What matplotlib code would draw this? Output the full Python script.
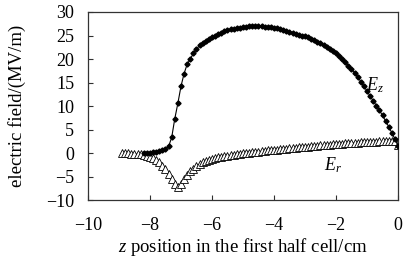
import matplotlib
matplotlib.use("Agg")
import matplotlib.pyplot as plt

plt.rcParams['font.family'] = ['Liberation Serif', 'DejaVu Serif']
plt.rcParams['mathtext.fontset'] = 'custom'
plt.rcParams['mathtext.it'] = 'Liberation Serif:italic'
plt.rcParams['mathtext.rm'] = 'Liberation Serif'

# z positions (cm), step 0.1 from -8.9 to 0
z = [-8.9, -8.8, -8.7, -8.6, -8.5, -8.4, -8.3, -8.2, -8.1, -8.0,
     -7.9, -7.8, -7.7, -7.6, -7.5, -7.4, -7.3, -7.2, -7.1, -7.0,
     -6.9, -6.8, -6.7, -6.6, -6.5, -6.4, -6.3, -6.2, -6.1, -6.0,
     -5.9, -5.8, -5.7, -5.6, -5.5, -5.4, -5.3, -5.2, -5.1, -5.0,
     -4.9, -4.8, -4.7, -4.6, -4.5, -4.4, -4.3, -4.2, -4.1, -4.0,
     -3.9, -3.8, -3.7, -3.6, -3.5, -3.4, -3.3, -3.2, -3.1, -3.0,
     -2.9, -2.8, -2.7, -2.6, -2.5, -2.4, -2.3, -2.2, -2.1, -2.0,
     -1.9, -1.8, -1.7, -1.6, -1.5, -1.4, -1.3, -1.2, -1.1, -1.0,
     -0.9, -0.8, -0.7, -0.6, -0.5, -0.4, -0.3, -0.2, -0.1, 0.0]

# axial field Ez (MV/m), visible from z = -8.2
ez_z = z[7:]
ez = [0.0, 0.0, 0.05, 0.15, 0.25, 0.4, 0.6, 0.9, 1.4, 3.3,
      7.3, 10.6, 14.2, 16.9, 18.9, 20.0, 21.2, 22.1, 22.9, 23.4,
      23.9, 24.3, 24.6, 24.9, 25.3, 25.6, 25.9, 26.1, 26.3, 26.45,
      26.6, 26.7, 26.8, 26.9, 27.0, 27.05, 27.05, 27.0, 27.0, 26.9,
      26.85, 26.75, 26.65, 26.5, 26.35, 26.2, 26.0, 25.8, 25.6, 25.4,
      25.2, 25.0, 24.8, 24.6, 24.3, 24.0, 23.6, 23.3, 22.9, 22.5,
      22.1, 21.7, 21.2, 20.6, 20.0, 19.3, 18.6, 17.9, 17.1, 16.2,
      15.2, 14.2, 13.2, 12.1, 11.1, 10.1, 9.1, 8.0, 6.8, 5.6,
      4.3, 3.0, 1.5]

# radial field Er (MV/m)
er = [-0.1, -0.1, -0.1, -0.15, -0.2, -0.2, -0.3, -0.4, -0.6, -0.8,
      -1.1, -1.5, -2.0, -2.7, -3.4, -4.4, -5.5, -6.7, -7.3, -6.5,
      -5.5, -4.6, -3.9, -3.3, -2.8, -2.35, -2.0, -1.75, -1.5, -1.3,
      -1.1, -0.95, -0.8, -0.65, -0.55, -0.45, -0.35, -0.25, -0.15, -0.05,
      0.03, 0.1, 0.18, 0.25, 0.32, 0.4, 0.47, 0.54, 0.6, 0.67,
      0.74, 0.8, 0.87, 0.93, 1.0, 1.06, 1.12, 1.18, 1.24, 1.3,
      1.36, 1.42, 1.48, 1.54, 1.6, 1.66, 1.72, 1.78, 1.84, 1.9,
      1.96, 2.0, 2.05, 2.1, 2.14, 2.18, 2.22, 2.26, 2.3, 2.33,
      2.36, 2.39, 2.42, 2.45, 2.48, 2.5, 2.52, 2.54, 2.5, 1.8]

fig = plt.figure(figsize=(4.06, 2.62), dpi=100)
ax = fig.add_axes([0.2167, 0.2366, 0.7636, 0.7176])

ax.plot(z, er, color='black', lw=0.6, marker='^', ms=6, mfc='white',
        mec='black', mew=0.6, zorder=2)
ax.plot(ez_z, ez, color='black', lw=0.8, marker='D', ms=2.6,
        mfc='black', mec='black', zorder=3)

ax.text(-0.75, 14.5, r'$E_z$', fontsize=13, ha='center', va='center')
ax.text(-2.1, -2.6, r'$E_r$', fontsize=13, ha='center', va='center')

ax.set_xlim(-10, 0)
ax.set_ylim(-10, 30)
ax.set_xticks([-10, -8, -6, -4, -2, 0])
ax.set_yticks([-10, -5, 0, 5, 10, 15, 20, 25, 30])
ax.tick_params(direction='in', length=3.5, width=0.8, labelsize=13,
               colors='#303030', labelcolor='black')
ax.tick_params(axis='x', pad=12)
ax.tick_params(axis='y', pad=10)
for s in ax.spines.values():
    s.set_color('#333333')
    s.set_linewidth(0.9)

ax.set_xlabel(r'$z$ position in the first half cell/cm', fontsize=13.5)
ax.xaxis.set_label_coords(0.5, -0.19)
ax.set_ylabel('electric field/(MV/m)', fontsize=13.5)
ax.yaxis.set_label_coords(-0.2, 0.5)

fig.savefig('out.png', dpi=100)
